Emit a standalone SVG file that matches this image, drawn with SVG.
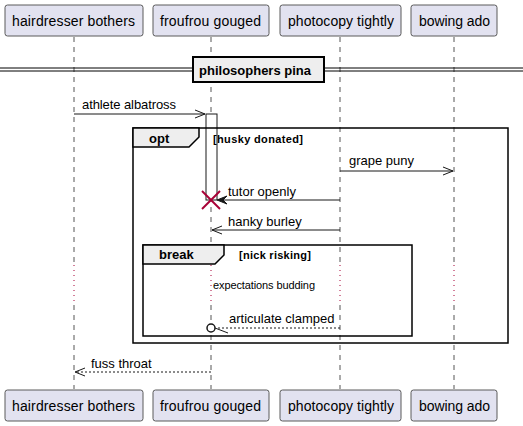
<svg xmlns="http://www.w3.org/2000/svg" width="523" height="426" viewBox="0 0 523 426">
<style>
.pbox{fill:#E2E2F0;stroke:#5B5B5B;stroke-width:1}
.ptxt{font-family:"Liberation Sans",Arial,sans-serif;font-size:14px;fill:#000}
.life{stroke:#555;stroke-width:1;stroke-dasharray:5,5}
.delay{stroke:#A80036;stroke-width:1;stroke-dasharray:1,4}
.msg{stroke:#181818;stroke-width:1;fill:none}
.dash{stroke:#181818;stroke-width:1;fill:none;stroke-dasharray:2,2}
.mtxt{font-family:"Liberation Sans",Arial,sans-serif;font-size:13px;fill:#000}
.frame{fill:none;stroke:#000;stroke-width:1.5}
.tab{fill:#EEEEEE;stroke:#000;stroke-width:1.5}
.ftxt{font-family:"Liberation Sans",Arial,sans-serif;font-size:13px;font-weight:bold;fill:#000}
.gtxt{font-family:"Liberation Sans",Arial,sans-serif;font-size:11px;font-weight:bold;fill:#000}
</style>
<g id="lifelines">
<line class="life" x1="74" y1="37" x2="74" y2="265"/>
<line class="delay" x1="74" y1="265" x2="74" y2="305"/>
<line class="life" x1="74" y1="305" x2="74" y2="389"/>
<line class="life" x1="211" y1="37" x2="211" y2="265"/>
<line class="delay" x1="211" y1="265" x2="211" y2="305"/>
<line class="life" x1="211" y1="305" x2="211" y2="389"/>
<line class="life" x1="340" y1="37" x2="340" y2="265"/>
<line class="delay" x1="340" y1="265" x2="340" y2="305"/>
<line class="life" x1="340" y1="305" x2="340" y2="389"/>
<line class="life" x1="454" y1="37" x2="454" y2="265"/>
<line class="delay" x1="454" y1="265" x2="454" y2="305"/>
<line class="life" x1="454" y1="305" x2="454" y2="389"/>
</g>
<g id="p-hairdresser">
<rect class="pbox" x="5" y="5" width="138" height="31" rx="2.5"/>
<text class="ptxt" x="12" y="26" textLength="123">hairdresser bothers</text>
<rect class="pbox" x="5" y="390" width="138" height="31" rx="2.5"/>
<text class="ptxt" x="12" y="411" textLength="123">hairdresser bothers</text>
</g>
<g id="p-froufrou">
<rect class="pbox" x="153" y="5" width="116" height="31" rx="2.5"/>
<text class="ptxt" x="160" y="26" textLength="101">froufrou gouged</text>
<rect class="pbox" x="153" y="390" width="116" height="31" rx="2.5"/>
<text class="ptxt" x="160" y="411" textLength="101">froufrou gouged</text>
</g>
<g id="p-photocopy">
<rect class="pbox" x="280" y="5" width="121" height="31" rx="2.5"/>
<text class="ptxt" x="288" y="26" textLength="106">photocopy tightly</text>
<rect class="pbox" x="280" y="390" width="121" height="31" rx="2.5"/>
<text class="ptxt" x="288" y="411" textLength="106">photocopy tightly</text>
</g>
<g id="p-bowing">
<rect class="pbox" x="411" y="5" width="86" height="31" rx="2.5"/>
<text class="ptxt" x="419" y="26" textLength="71">bowing ado</text>
<rect class="pbox" x="411" y="390" width="86" height="31" rx="2.5"/>
<text class="ptxt" x="419" y="411" textLength="71">bowing ado</text>
</g>
<g id="divider">
<line x1="0" y1="68" x2="523" y2="68" stroke="#000" stroke-width="1"/>
<line x1="0" y1="71" x2="523" y2="71" stroke="#000" stroke-width="1"/>
<rect x="193" y="57" width="131" height="25" fill="#EEEEEE" stroke="#000" stroke-width="2"/>
<text class="ftxt" x="199" y="75" textLength="112">philosophers pina</text>
</g>
<g id="activation">
<rect x="206" y="114" width="11" height="86" fill="#fff" stroke="#181818" stroke-width="1"/>
</g>
<g id="frame-opt">
<rect class="frame" x="133" y="128" width="375" height="215"/>
<polygon class="tab" points="133,128 199,128 199,137 189,147 133,147"/>
<text class="ftxt" x="149" y="143">opt</text>
<text class="gtxt" x="213" y="143" textLength="90">[husky donated]</text>
</g>
<g id="frame-break">
<rect class="frame" x="143" y="245" width="269" height="91"/>
<polygon class="tab" points="143,245 224,245 224,255 215,264 143,264"/>
<text class="ftxt" x="159" y="259">break</text>
<text class="gtxt" x="239" y="259" textLength="72">[nick risking]</text>
</g>
<g id="connectors">
<line class="msg" x1="74" y1="114" x2="205" y2="114"/>
<polyline class="msg" points="195,110 205,114 195,118"/>
<text class="mtxt" x="82" y="109" textLength="94">athlete albatross</text>

<line class="msg" x1="340" y1="171" x2="453" y2="171"/>
<polyline class="msg" points="443,167 453,171 443,175"/>
<text class="mtxt" x="349" y="165">grape puny</text>

<line class="msg" x1="340" y1="200" x2="219" y2="200"/>
<polygon points="217,200 227,196 223,200 227,204" fill="#181818" stroke="#181818" stroke-width="1"/>
<text class="mtxt" x="228" y="196">tutor openly</text>

<line class="msg" x1="340" y1="230" x2="212" y2="230"/>
<polyline class="msg" points="222,226 212,230 222,234"/>
<text class="mtxt" x="228" y="226">hanky burley</text>

<text x="213" y="289" font-family="'Liberation Sans',Arial,sans-serif" font-size="11px" textLength="102">expectations budding</text>

<line class="dash" x1="340" y1="328" x2="216" y2="328"/>
<circle cx="211" cy="328" r="4" fill="#fff" stroke="#181818" stroke-width="1.5"/>
<line class="msg" x1="215" y1="328" x2="228" y2="333"/>
<text class="mtxt" x="229" y="323">articulate clamped</text>

<line class="dash" x1="211" y1="372" x2="75" y2="372"/>
<polyline class="msg" points="85,368 75,372 85,376"/>
<text class="mtxt" x="91" y="368">fuss throat</text>
</g>
<g id="destroy">
<line x1="202" y1="191" x2="220" y2="209" stroke="#A80036" stroke-width="2"/>
<line x1="202" y1="209" x2="220" y2="191" stroke="#A80036" stroke-width="2"/>
</g>
</svg>
